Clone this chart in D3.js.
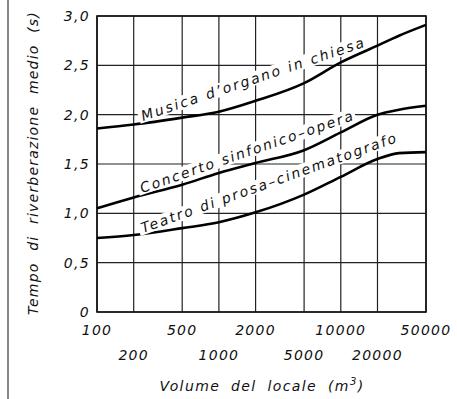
<!DOCTYPE html>
<html>
<head>
<meta charset="utf-8">
<script src="https://cdn.jsdelivr.net/npm/d3@7"></script>
<style>
  body { margin: 0; background: #fff; }
  text { font-family: "DejaVu Sans", sans-serif; font-style: italic; fill: #111; }
</style>
</head>
<body>
<svg id="chart" width="457" height="399"></svg>
<script>
// volumes (m3)
var volumes = [100, 200, 500, 1000, 2000, 5000, 10000, 20000, 30000, 50000];
var organo  = [1.86, 1.90, 1.97, 2.03, 2.14, 2.32, 2.53, 2.70, 2.80, 2.91];
var concerto = [1.05, 1.16, 1.29, 1.41, 1.51, 1.64, 1.82, 2.00, 2.05, 2.09];
var teatro  = [0.75, 0.78, 0.85, 0.91, 1.01, 1.19, 1.37, 1.55, 1.61, 1.62];

var xTicksTop = [100, 500, 2000, 10000, 50000];
var xTicksBottom = [200, 1000, 5000, 20000];
var yTicks = [0, 0.5, 1.0, 1.5, 2.0, 2.5, 3.0];

var curveLabels = ["Musica d\u2019organo in chiesa", "Concerto sinfonico\u2013opera", "Teatro di prosa\u2013cinematografo"];

var svg = d3.select('#chart');
var margin = {left: 97, top: 16, right: 31, bottom: 87};
var w = 457 - margin.left - margin.right,
    h = 399 - margin.top - margin.bottom;

var x = d3.scaleLog().domain([100, 50000]).range([0, w]);
var y = d3.scaleLinear().domain([0, 3]).range([h, 0]);

// grey border line on the far left
svg.append('line')
  .attr('x1', 8).attr('x2', 8).attr('y1', 0).attr('y2', 399)
  .attr('stroke', '#888').attr('stroke-width', 2);

var g = svg.append('g').attr('transform', 'translate(' + margin.left + ',' + margin.top + ')');

// grid
g.append('g').selectAll('line')
  .data(xTicksTop.concat(xTicksBottom))
  .enter().append('line')
  .attr('x1', function(d) { return x(d); }).attr('x2', function(d) { return x(d); })
  .attr('y1', 0).attr('y2', h)
  .attr('stroke', '#222').attr('stroke-width', 1.2);

g.append('g').selectAll('line')
  .data(yTicks)
  .enter().append('line')
  .attr('x1', 0).attr('x2', w)
  .attr('y1', function(d) { return y(d); }).attr('y2', function(d) { return y(d); })
  .attr('stroke', '#222').attr('stroke-width', 1.2);

g.append('rect')
  .attr('width', w).attr('height', h)
  .attr('fill', 'none').attr('stroke', '#111').attr('stroke-width', 1.6);

// y tick labels
var fmt = function(d) { return d === 0 ? '0' : d3.format('.1f')(d).replace('.', ','); };
g.append('g').selectAll('text')
  .data(yTicks)
  .enter().append('text')
  .attr('x', -7).attr('y', function(d) { return y(d); })
  .attr('dy', '0.36em')
  .attr('text-anchor', 'end')
  .style('font-size', '14px').style('letter-spacing', '1.3px')
  .text(fmt);

// x tick labels, two staggered rows
g.append('g').selectAll('text')
  .data(xTicksTop)
  .enter().append('text')
  .attr('x', function(d) { return x(d); }).attr('y', h + 23)
  .attr('text-anchor', 'middle')
  .style('font-size', '14px').style('letter-spacing', '1.3px')
  .text(function(d) { return d; });

g.append('g').selectAll('text')
  .data(xTicksBottom)
  .enter().append('text')
  .attr('x', function(d) { return x(d); }).attr('y', h + 48)
  .attr('text-anchor', 'middle')
  .style('font-size', '14px').style('letter-spacing', '1.3px')
  .text(function(d) { return d; });

// axis titles
var xt = svg.append('text')
  .attr('x', 262).attr('y', 391)
  .attr('text-anchor', 'middle')
  .style('font-size', '14px').style('letter-spacing', '1.4px').style('word-spacing', '5px');
xt.append('tspan').text('Volume del locale (m');
xt.append('tspan').attr('dy', -6).style('font-size', '10px').text('3');
xt.append('tspan').attr('dy', 6).text(')');

svg.append('text')
  .attr('transform', 'translate(38,163) rotate(-90)')
  .attr('text-anchor', 'middle')
  .style('font-size', '14px').style('letter-spacing', '1.2px').style('word-spacing', '6px')
  .text('Tempo di riverberazione medio (s)');

// curve labels with white boxes that cut the grid
var labelPos = [
  {x: 143, y: 121, a: -18.5, len: 234},
  {x: 142, y: 193, a: -19, len: 224},
  {x: 143, y: 233, a: -19.7, len: 270}
];
labelPos.forEach(function(p, i) {
  var lg = svg.append('g').attr('transform', 'translate(' + p.x + ',' + p.y + ') rotate(' + p.a + ')');
  var bg = lg.append('rect').attr('fill', '#fff');
  var t = lg.append('text')
    .attr('textLength', p.len).attr('lengthAdjust', 'spacing')
    .style('font-size', '14px')
    .text(curveLabels[i]);
  var bb = t.node().getBBox();
  bg.attr('x', bb.x - 3).attr('y', bb.y + 1).attr('width', bb.width + 6).attr('height', bb.height - 2);
});

// curves
var line = d3.line()
  .x(function(d, i) { return x(volumes[i]); })
  .y(function(d) { return y(d); })
  .curve(d3.curveMonotoneX);

g.append('g').selectAll('path')
  .data([organo, concerto, teatro])
  .enter().append('path')
  .attr('d', line)
  .attr('fill', 'none').attr('stroke', '#000').attr('stroke-width', 2.6);
</script>
</body>
</html>
